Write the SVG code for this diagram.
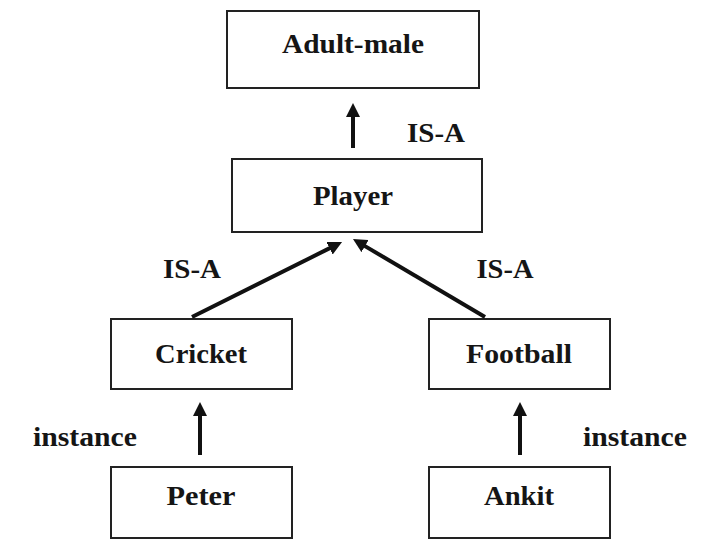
<svg xmlns="http://www.w3.org/2000/svg" width="721" height="547" viewBox="0 0 721 547">
<style>
  .box { fill: #fff; stroke: #222; stroke-width: 2; }
  .lbl { font-family: "Liberation Serif", "Times New Roman", serif; font-weight: bold; font-size: 28px; fill: #151515; text-anchor: middle; }
  .edge { stroke: #111; stroke-width: 4; fill: none; marker-end: url(#ah); }
</style>
<defs>
  <marker id="ah" viewBox="0 0 14 14" refX="2" refY="7" markerWidth="14" markerHeight="14" markerUnits="userSpaceOnUse" orient="auto">
    <path d="M0,0 L14,7 L0,14 z" fill="#111"/>
  </marker>
</defs>
<rect width="721" height="547" fill="#fff"/>
<g id="adult-male"><rect class="box" x="227" y="11" width="252" height="77"/><text class="lbl" x="353" y="53" textLength="142" lengthAdjust="spacingAndGlyphs">Adult-male</text></g>
<g id="player"><rect class="box" x="232" y="159" width="250" height="73"/><text class="lbl" x="353" y="205" textLength="80" lengthAdjust="spacingAndGlyphs">Player</text></g>
<g id="cricket"><rect class="box" x="111" y="319" width="181" height="70"/><text class="lbl" x="201" y="363" textLength="92" lengthAdjust="spacingAndGlyphs">Cricket</text></g>
<g id="football"><rect class="box" x="429" y="319" width="181" height="70"/><text class="lbl" x="519" y="363" textLength="106" lengthAdjust="spacingAndGlyphs">Football</text></g>
<g id="peter"><rect class="box" x="111" y="467" width="181" height="71"/><text class="lbl" x="201" y="505" textLength="69" lengthAdjust="spacingAndGlyphs">Peter</text></g>
<g id="ankit"><rect class="box" x="429" y="467" width="181" height="71"/><text class="lbl" x="519" y="505" textLength="70" lengthAdjust="spacingAndGlyphs">Ankit</text></g>
<g id="connectors">
  <path class="edge" d="M353,148 L353,115"/>
  <path class="edge" d="M192,317 L331.3,247.4"/>
  <path class="edge" d="M485,317 L363.3,245.1"/>
  <path class="edge" d="M200,455 L200,414"/>
  <path class="edge" d="M520,455 L520,414"/>
  <text class="lbl" x="436" y="142" textLength="58" lengthAdjust="spacingAndGlyphs">IS-A</text>
  <text class="lbl" x="192" y="278" textLength="58" lengthAdjust="spacingAndGlyphs">IS-A</text>
  <text class="lbl" x="505" y="278" textLength="57" lengthAdjust="spacingAndGlyphs">IS-A</text>
  <text class="lbl" x="85" y="446" textLength="104" lengthAdjust="spacingAndGlyphs">instance</text>
  <text class="lbl" x="635" y="446" textLength="104" lengthAdjust="spacingAndGlyphs">instance</text>
</g>
</svg>
